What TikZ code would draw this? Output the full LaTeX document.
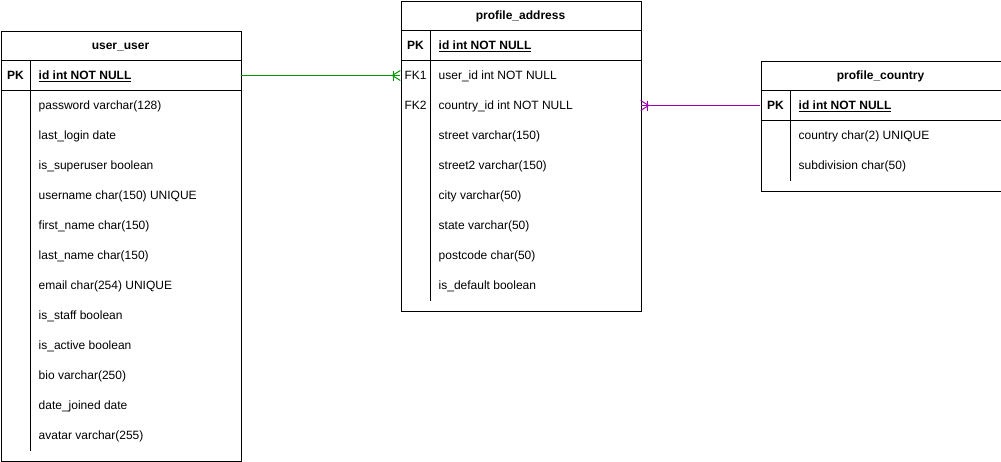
\documentclass[tikz,border=0pt]{standalone}
\usepackage{fontspec}
\newfontfamily\erfont{Liberation Sans}
\usetikzlibrary{calc}
\definecolor{relgreen}{RGB}{0,153,0}
\definecolor{relpurple}{RGB}{160,0,176}
\newcommand\erf{\erfont\fontsize{12}{14}\selectfont}
\tikzset{
  tbl/.style={draw, line width=1pt, minimum width=240pt, inner sep=0pt, anchor=north west},
  rowbox/.style={minimum width=240pt, minimum height=30pt, inner sep=0pt},
  keytxt/.style={font=\erf, inner sep=0pt, anchor=base, yshift=-4.3pt},
  fieldtxt/.style={font=\erf, anchor=base west, inner sep=0pt, yshift=-4.3pt},
  titletxt/.style={font=\erf\bfseries, inner sep=0pt, anchor=base, yshift=-4.3pt},
  sepline/.style={line width=1pt},
  relg/.style={draw=relgreen, line width=1pt},
  relp/.style={draw=relpurple, line width=1pt},
}
\begin{document}
\begin{tikzpicture}[x=1pt,y=-1pt]
\useasboundingbox[fill=white] (0,0) rectangle (1001,461);
% ---------- user_user ----------
\node[tbl, minimum height=430pt] (uu) at (0.5,30.5) {};
\node[titletxt] (uu-title) at (120.5,45.5) {user\_user};
\draw[sepline] (0.5,60.5) -- (240.5,60.5) (0.5,90.5) -- (240.5,90.5) (30.5,60.5) -- (30.5,450.5);
\node[rowbox] (uu-1) at (120.5,75.5) {};
\node[keytxt] (uu-k1) at (15.5,75.5) {\bfseries PK};
\node[fieldtxt] (uu-f1) at (38.5,75.5) {\bfseries\underline{id int NOT NULL}};
\foreach \f [count=\i from 2] in {password varchar(128), last\_login date, is\_superuser boolean, username char(150) UNIQUE, first\_name char(150), last\_name char(150), email char(254) UNIQUE, is\_staff boolean, is\_active boolean, bio varchar(250), date\_joined date, avatar varchar(255)}{
  \node[rowbox] (uu-\i) at (120.5,{45.5+30*\i}) {};
  \node[fieldtxt] (uu-f\i) at (38.5,{45.5+30*\i}) {\f};
}
% ---------- profile_address ----------
\node[tbl, minimum height=310pt] (pa) at (400.5,0.5) {};
\node[titletxt] (pa-title) at (520.5,15.5) {profile\_address};
\draw[sepline] (400.5,30.5) -- (640.5,30.5) (400.5,60.5) -- (640.5,60.5) (430.5,30.5) -- (430.5,300.5);
\node[rowbox] (pa-1) at (520.5,45.5) {};
\node[keytxt] (pa-k1) at (415.5,45.5) {\bfseries PK};
\node[fieldtxt] (pa-f1) at (438.5,45.5) {\bfseries\underline{id int NOT NULL}};
\foreach \f [count=\i from 2] in {user\_id int NOT NULL, country\_id int NOT NULL, street varchar(150), street2 varchar(150), city varchar(50), state varchar(50), postcode char(50), is\_default boolean}{
  \node[rowbox] (pa-\i) at (520.5,{15.5+30*\i}) {};
  \node[fieldtxt] (pa-f\i) at (438.5,{15.5+30*\i}) {\f};
}
\node[keytxt] (pa-k2) at (415.5,75.5) {FK1};
\node[keytxt] (pa-k3) at (415.5,105.5) {FK2};
% ---------- profile_country ----------
\node[tbl, minimum height=130pt] (pc) at (760.5,60.5) {};
\node[titletxt] (pc-title) at (880.5,75.5) {profile\_country};
\draw[sepline] (760.5,90.5) -- (1000.5,90.5) (760.5,120.5) -- (1000.5,120.5) (790.5,90.5) -- (790.5,180.5);
\node[rowbox] (pc-1) at (880.5,105.5) {};
\node[keytxt] (pc-k1) at (775.5,105.5) {\bfseries PK};
\node[fieldtxt] (pc-f1) at (798.5,105.5) {\bfseries\underline{id int NOT NULL}};
\foreach \f [count=\i from 2] in {country char(2) UNIQUE, subdivision char(50)}{
  \node[rowbox] (pc-\i) at (880.5,{75.5+30*\i}) {};
  \node[fieldtxt] (pc-f\i) at (798.5,{75.5+30*\i}) {\f};
}
% ---------- relations ----------
\draw[relg] (uu-1.east) -- (pa-2.west);
\draw[relg] ($(pa-2.west)+(-7,-5)$) -- ($(pa-2.west)+(-7,5)$);
\draw[relg] ($(pa-2.west)+(0,-5)$) -- ($(pa-2.west)+(-8,0)$) -- ($(pa-2.west)+(0,5)$);
\draw[relp] (pc-1.west) -- (pa-3.east);
\draw[relp] ($(pa-3.east)+(7,-5)$) -- ($(pa-3.east)+(7,5)$);
\draw[relp] ($(pa-3.east)+(0,-5)$) -- ($(pa-3.east)+(8,0)$) -- ($(pa-3.east)+(0,5)$);
\end{tikzpicture}
\end{document}
